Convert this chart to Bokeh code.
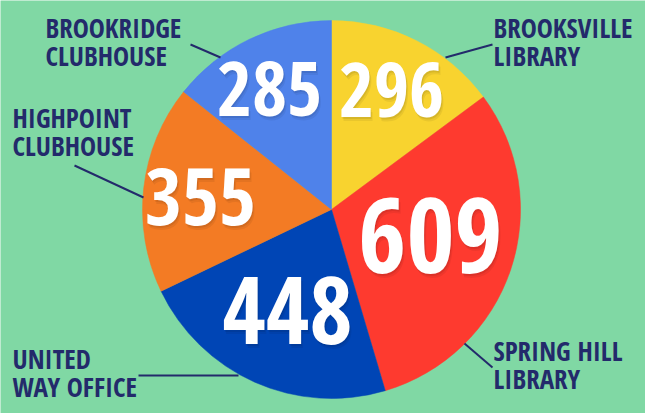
from bokeh.plotting import figure
from bokeh.models import Range1d, ColumnDataSource
from bokeh.core.properties import value
from bokeh.embed import file_html
from bokeh.resources import INLINE
import math

# ---- data ----
categories = ["Brooksville Library", "Spring Hill Library", "United Way Office",
              "Highpoint Clubhouse", "Brookridge Clubhouse"]
values = [296, 609, 448, 355, 285]
colors = ["#f8d32f", "#fe3a2f", "#0045b5", "#f37b24", "#4f82ea"]
label_line1 = ["BROOKSVILLE", "SPRING HILL", "UNITED", "HIGHPOINT", "BROOKRIDGE"]
label_line2 = ["LIBRARY", "LIBRARY", "WAY OFFICE", "CLUBHOUSE", "CLUBHOUSE"]

# ---- layout (page pixel coordinates, y downward) ----
W, H = 645, 413
BG = "#80d8a4"
NAVY = "#232a6b"
cx, cy, R = 331, 209, 189
num_pos = [(391, 89), (430, 235), (287, 310), (200, 196), (269, 88)]  # text centres
num_size = [76, 104, 94, 80, 76]
lab_pos = [(493, 27), (493, 350), (12, 358), (12, 117), (45, 27)]
leaders = [((445, 57), (492, 44)), ((464, 343), (492, 367)), ((138, 375), (238, 375)),
           ((74, 165), (143, 197)), ((190, 44), (220, 57))]


def Y(py):
    return H - py


p = figure(width=W, height=H, output_backend="svg", toolbar_location=None,
           x_range=Range1d(0, W), y_range=Range1d(0, H), min_border=0)
p.axis.visible = False
p.grid.visible = False
p.outline_line_color = None
p.background_fill_color = BG
p.border_fill_color = BG

total = float(sum(values))
starts, ends = [], []
cum = 0.0
for v in values:
    starts.append(math.pi / 2 - 2 * math.pi * cum / total)
    cum += v
    ends.append(math.pi / 2 - 2 * math.pi * cum / total)

src = ColumnDataSource(dict(x=[cx] * len(values), y=[Y(cy)] * len(values), start=starts,
                            end=ends, color=colors, cat=categories, val=values))
p.wedge(x="x", y="y", radius=R, start_angle="start", end_angle="end", direction="clock",
        fill_color="color", line_color="color", line_width=0.5, source=src)

# numbers
font = value("Open Sans Condensed")
for (nx, ny), v, s in zip(num_pos, values, num_size):
    for dx, dy, a in [(1, 2, 0.08), (2, 4, 0.06)]:
        p.text(x=[nx + dx], y=[Y(ny) - dy], text=[str(v)], text_font=font, text_font_style="bold",
               text_font_size=f"{s}px", text_color="#000000", text_alpha=a,
               text_align="center", text_baseline="alphabetic")
    p.text(x=[nx], y=[Y(ny)], text=[str(v)], text_font=font, text_font_style="bold",
           text_font_size=f"{s}px", text_color="white",
           text_align="center", text_baseline="alphabetic")

# labels
for (lx, ly), l1, l2 in zip(lab_pos, label_line1, label_line2):
    p.text(x=[lx, lx], y=[Y(ly), Y(ly + 28)], text=[l1, l2], text_font=font,
           text_font_style="bold", text_font_size="27px", text_color=NAVY,
           text_align="left", text_baseline="alphabetic")

# leader lines
for (a, b) in leaders:
    p.line(x=[a[0], b[0]], y=[Y(a[1]), Y(b[1])], line_color=NAVY, line_width=2)

open("out.html", "w").write(file_html(p, INLINE))
